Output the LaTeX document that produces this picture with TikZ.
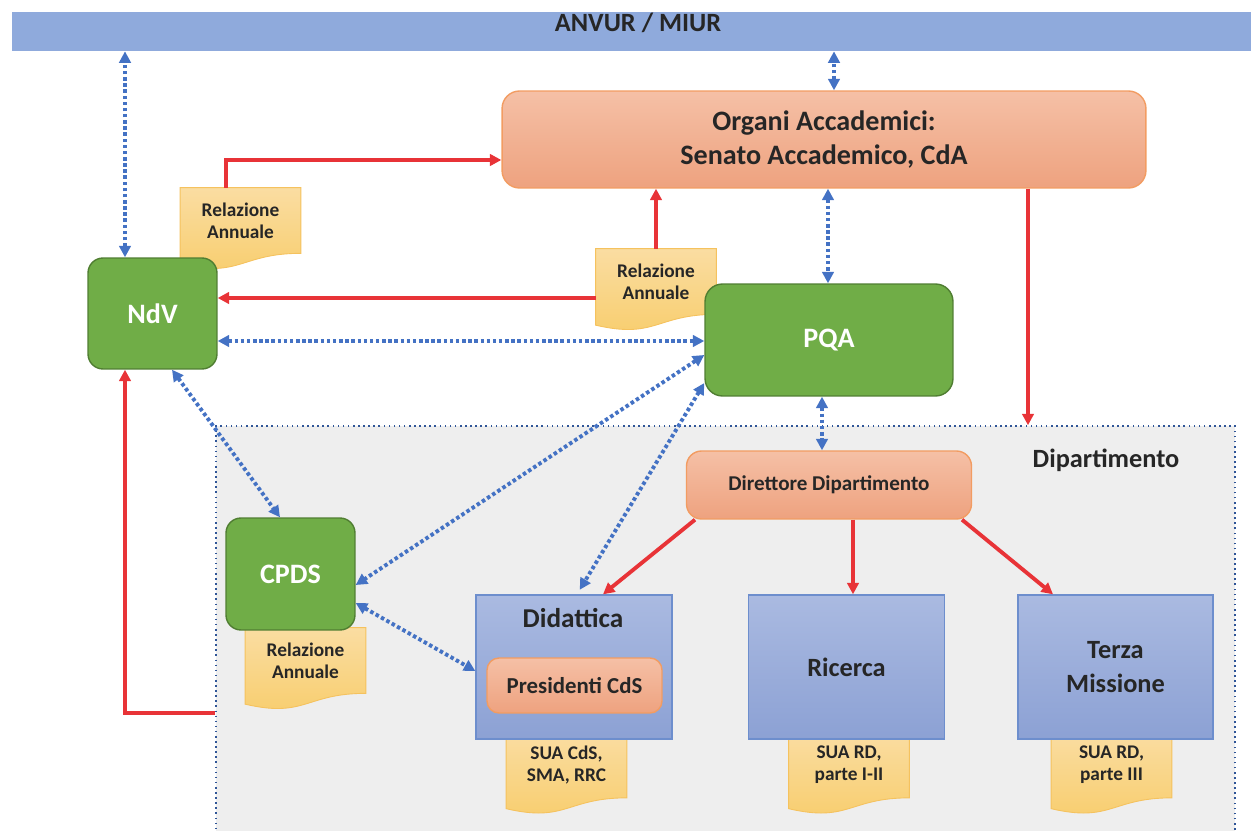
\documentclass[tikz,border=0pt]{standalone}
\usepackage{fontspec}
\setmainfont{Carlito}
\usetikzlibrary{arrows.meta,positioning,calc}

\definecolor{barblue}{HTML}{8FAADC}
\definecolor{textdark}{HTML}{262626}
\definecolor{orangetop}{HTML}{F5C0A6}
\definecolor{orangebot}{HTML}{EEA27F}
\definecolor{orangeline}{HTML}{F29C62}
\definecolor{greenfill}{HTML}{70AD47}
\definecolor{greenline}{HTML}{507E32}
\definecolor{bluetop}{HTML}{AABAE1}
\definecolor{bluebot}{HTML}{8CA1D4}
\definecolor{blueline}{HTML}{6D8ECD}
\definecolor{notetop}{HTML}{FADDA2}
\definecolor{notebot}{HTML}{F8CD6C}
\definecolor{noteline}{HTML}{F5C25E}
\definecolor{arrowred}{HTML}{E83337}
\definecolor{linkblue}{HTML}{4472C4}
\definecolor{areagray}{HTML}{EEEEEE}
\definecolor{arealine}{HTML}{2F5597}

\pgfdeclarelayer{back}
\pgfdeclarelayer{paper}
\pgfsetlayers{back,paper,main}

% sheet with wavy lower edge behind a note node
\newcommand{\notepaper}[1]{%
  \path[top color=notetop,bottom color=notebot,draw=noteline,line width=0.5pt]
    (#1.north west) -- (#1.north east) -- (#1.south east)
    .. controls (#1.south) and ($(#1.north)!1.38!(#1.south)$)
    .. ($(#1.north west)!1.165!(#1.south west)$) -- cycle;}

\begin{document}
\begin{tikzpicture}[x=0.02cm,y=-0.02cm,>={Triangle[length=6.5pt,width=6.5pt]},
	greenbox/.style={draw=greenline,fill=greenfill,line width=0.8pt,rounded corners=0.3cm,inner sep=0pt,text=white,font=\bfseries\fontsize{16pt}{19pt}\selectfont},
	orangebox/.style={draw=orangeline,top color=orangetop,bottom color=orangebot,line width=0.8pt,rounded corners=0.3cm,inner sep=0pt,align=center,text=textdark},
	bluebox/.style={draw=blueline,top color=bluetop,bottom color=bluebot,line width=0.8pt,inner sep=0pt,minimum width=3.92cm,minimum height=2.88cm,align=center,text=textdark,font=\bfseries\fontsize{15pt}{19pt}\selectfont},
	relnote/.style={minimum width=2.4cm,minimum height=1.3cm,inner sep=0pt,align=center,text=textdark,font=\bfseries\fontsize{11pt}{12.5pt}\selectfont},
	deptarea/.style={fill=areagray,draw=arealine,line width=0.9pt,dotted,inner sep=0pt},
	title/.style={text=textdark,inner sep=0pt,font=\bfseries\fontsize{15pt}{18pt}\selectfont},
	redarrow/.style={draw=arrowred,line width=2.2pt,->},
	bluelink/.style={draw=linkblue,line width=2.2pt,dash pattern=on 2pt off 1.5pt,<->}]
	\useasboundingbox (0,0) rectangle (1251,831);
	
	\begin{pgfonlayer}{back}
	\node[deptarea,minimum width=20.38cm,minimum height=8.18cm] (dip) at (725.5,630.5) {};
	\end{pgfonlayer}
	
	\node[fill=barblue,inner sep=0pt,minimum width=24.78cm,minimum height=0.78cm] (anvur) at (631.5,31.5) {};
	\node[title] (anvurlabel) at (638,23) {ANVUR / MIUR};
	
	% notes
	\node[relnote] (note1) at (240.5,220.5) {Relazione\\Annuale};
	\node[relnote] (note2) at (656,281.5) {Relazione\\Annuale};
	\node[relnote] (note3) at (305.5,660.5) {Relazione\\Annuale};
	\node[relnote] (sua1) at (566.5,765) {SUA CdS,\\SMA, RRC};
	\node[relnote] (sua2) at (849,765) {SUA RD,\\parte I-II};
	\node[relnote] (sua3) at (1111.5,765) {SUA RD,\\parte III};
	\begin{pgfonlayer}{paper}
	\foreach \n in {note1,note2,note3,sua1,sua2,sua3}
		\notepaper{\n};
	\end{pgfonlayer}
	
	\node[orangebox,minimum width=12.88cm,minimum height=1.94cm,rounded corners=0.35cm,font=\bfseries\fontsize{16pt}{19.5pt}\selectfont] (organi) at (824,139.5) {Organi Accademici:\\Senato Accademico, CdA};
	\node[greenbox,minimum width=2.58cm,minimum height=2.22cm] (ndv) at (152.5,313.5) {NdV};
	\node[greenbox,minimum width=4.96cm,minimum height=2.24cm,rounded corners=0.35cm] (pqa) at (829,340) {PQA};
	\node[greenbox,minimum width=2.58cm,minimum height=2.24cm] (cpds) at (290.5,574) {CPDS};
	
	\node[title] (diptitle) at (1106,460) {Dipartimento};
	\node[orangebox,minimum width=5.7cm,minimum height=1.36cm,font=\bfseries\fontsize{12pt}{14pt}\selectfont] (direttore) at (829,485) {Direttore Dipartimento};
	
	\node[bluebox] (didattica) at (574,667) {};
	\node[title,font=\bfseries\fontsize{15.5pt}{18pt}\selectfont] (didtitle) at (573,618) {Didattica};
	\node[orangebox,minimum width=3.5cm,minimum height=1.1cm,rounded corners=0.24cm,font=\bfseries\fontsize{13pt}{15pt}\selectfont] (presidenti) at (574.5,685.5) {Presidenti CdS};
	\node[bluebox] (ricerca) at (846.5,667) {Ricerca};
	\node[bluebox,minimum width=3.9cm] (terza) at (1115.5,667) {Terza\\Missione};
	
	% connectors
	\draw[bluelink] (125,0 |- ndv.north) -- (125,0 |- anvur.south);
	\draw[bluelink] (834,0 |- organi.north) -- (834,0 |- anvur.south);
	\draw[redarrow] (226,0 |- note1.north) |- (organi.west |- 0,160);
	\draw[redarrow] (note2.north) -- (note2.north |- organi.south);
	\draw[redarrow] (note2.west |- 0,298) -- (ndv.east |- 0,298);
	\draw[bluelink] (ndv.east |- 0,341) -- (pqa.west |- 0,341);
	\draw[bluelink] (828,0 |- organi.south) -- (828,0 |- pqa.north);
	\draw[redarrow] (1028,0 |- organi.south) -- (1028,0 |- dip.north);
	\draw[bluelink] (pqa.west |- 0,355) -- (cpds.east |- 0,585);
	\draw[bluelink,shorten >=3pt] (pqa.west |- 0,383) -- (577,0 |- didattica.north);
	\draw[bluelink] (822,0 |- pqa.south) -- (822,0 |- direttore.north);
	\draw[bluelink] (172,0 |- ndv.south) -- (280,0 |- cpds.north);
	\draw[bluelink] (cpds.east |- 0,603) -- (didattica.west |- 0,671);
	\draw[redarrow] (dip.west |- 0,713) -| (125,0 |- ndv.south);
	\draw[redarrow] (695,0 |- direttore.south) -- (603,0 |- didattica.north);
	\draw[redarrow] (853,0 |- direttore.south) -- (853,0 |- ricerca.north);
	\draw[redarrow] (962,0 |- direttore.south) -- (1053,0 |- terza.north);
\end{tikzpicture}
\end{document}
